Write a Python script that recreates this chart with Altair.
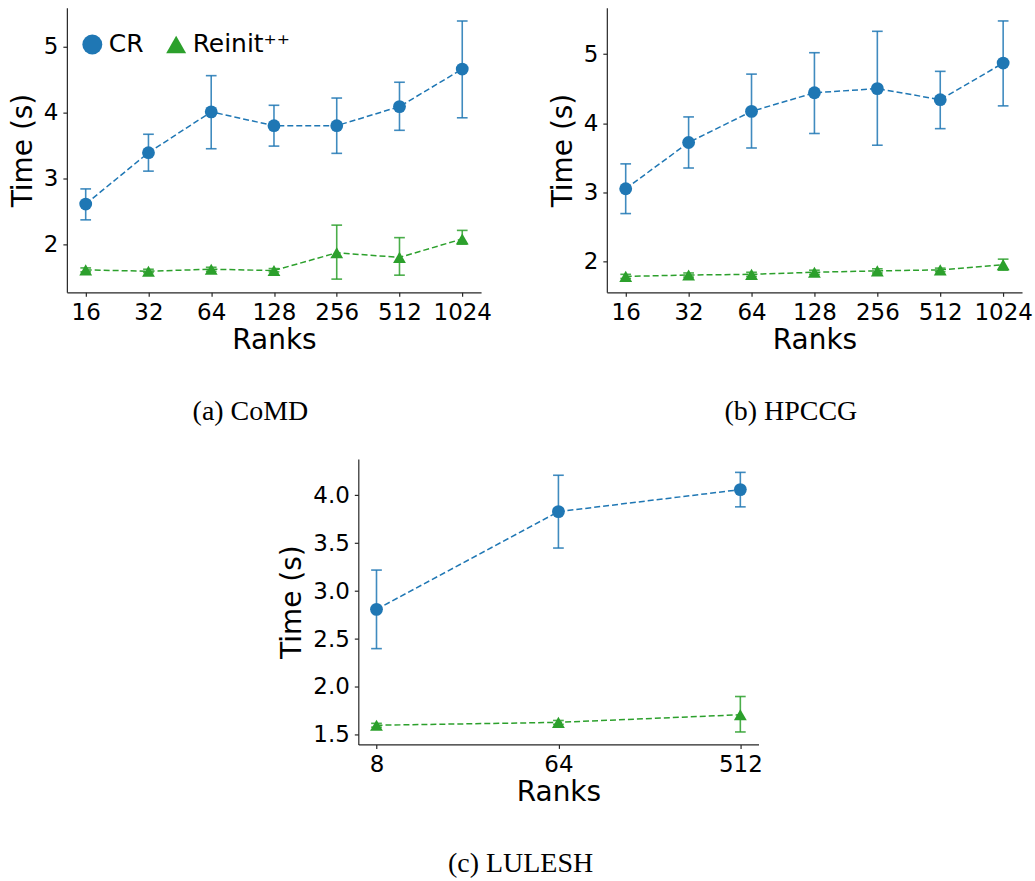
import altair as alt
import pandas as pd

SERIES = ["CR", "Reinit⁺⁺"]
COLORS = ["#1f77b4", "#2ca02c"]
SHAPES = ["circle", "triangle-up"]

# (a) CoMD
comd_ranks = ["16", "32", "64", "128", "256", "512", "1024"]
comd_cr = [2.61, 3.39, 4.01, 3.80, 3.80, 4.09, 4.66]
comd_cr_lo = [2.37, 3.11, 3.45, 3.49, 3.38, 3.73, 3.92]
comd_cr_hi = [2.84, 3.67, 4.56, 4.11, 4.22, 4.46, 5.39]
comd_re = [1.61, 1.59, 1.62, 1.60, 1.87, 1.80, 2.08]
comd_re_lo = [1.58, 1.57, 1.59, 1.58, 1.47, 1.53, 2.00]
comd_re_hi = [1.64, 1.62, 1.65, 1.63, 2.29, 2.10, 2.21]

# (b) HPCCG
hpccg_ranks = ["16", "32", "64", "128", "256", "512", "1024"]
hpccg_cr = [3.05, 3.72, 4.17, 4.44, 4.50, 4.34, 4.87]
hpccg_cr_lo = [2.69, 3.35, 3.64, 3.85, 3.68, 3.92, 4.25]
hpccg_cr_hi = [3.41, 4.09, 4.71, 5.02, 5.33, 4.75, 5.48]
hpccg_re = [1.78, 1.80, 1.81, 1.84, 1.86, 1.875, 1.95]
hpccg_re_lo = [1.75, 1.77, 1.78, 1.81, 1.83, 1.85, 1.87]
hpccg_re_hi = [1.81, 1.83, 1.84, 1.87, 1.89, 1.90, 2.03]

# (c) LULESH
lulesh_ranks = ["8", "64", "512"]
lulesh_cr = [2.81, 3.83, 4.06]
lulesh_cr_lo = [2.40, 3.45, 3.88]
lulesh_cr_hi = [3.22, 4.21, 4.24]
lulesh_re = [1.60, 1.63, 1.71]
lulesh_re_lo = [1.58, 1.61, 1.53]
lulesh_re_hi = [1.62, 1.65, 1.90]

FONT = "DejaVu Sans"

LEGEND = alt.Legend(title=None, orient="none", legendX=13, legendY=24,
                    direction="horizontal", symbolSize=400, labelFontSize=25,
                    labelFont=FONT, labelColor="black", symbolStrokeWidth=0,
                    labelOffset=4, columnPadding=20)


def make_df(ranks, cr, crlo, crhi, re, relo, rehi):
    rows = []
    for r, v, lo, hi in zip(ranks, cr, crlo, crhi):
        rows.append({"rank": r, "series": SERIES[0], "value": v, "lo": lo, "hi": hi})
    for r, v, lo, hi in zip(ranks, re, relo, rehi):
        rows.append({"rank": r, "series": SERIES[1], "value": v, "lo": lo, "hi": hi})
    return pd.DataFrame(rows)


def axis_style(title_pad, **kw):
    return alt.Axis(labelFont=FONT, labelFontSize=23, labelColor="black",
                    titleFont=FONT, titleFontSize=28, titleFontWeight="normal",
                    titleColor="black", domainColor="#262626", tickColor="#262626",
                    domainWidth=1.2, tickWidth=1.2, tickSize=4, labelPadding=5,
                    titlePadding=title_pad, grid=False, **kw)


def panel(df, ranks, domain, ticks, fmt, caption, width, height, xpad):
    x = alt.X("rank:O", sort=ranks, title="Ranks",
              scale=alt.Scale(type="point", padding=xpad),
              axis=axis_style(2, labelAngle=0))
    yscale = alt.Scale(domain=domain, nice=False, zero=False)
    # stroke scale: domain taken from the data (sorted: CR, Reinit) so that its
    # disabled legend is not merged with the colour/shape legend
    stroke = alt.Stroke("series:N", scale=alt.Scale(range=COLORS), legend=None)
    base = alt.Chart(df)
    line = base.mark_line(strokeDash=[6, 3], strokeWidth=1.5).encode(
        x=x, y=alt.Y("value:Q", scale=yscale, title="Time (s)",
                      axis=axis_style(6, values=ticks, format=fmt)),
        stroke=stroke, detail="series:N")
    rule = base.mark_rule(strokeWidth=1.6, opacity=0.85).encode(
        x=x, y="lo:Q", y2="hi:Q", stroke=stroke)
    cap_lo = base.mark_point(shape="stroke", size=115, strokeWidth=1.6, opacity=0.85).encode(
        x=x, y="lo:Q", stroke=stroke)
    cap_hi = base.mark_point(shape="stroke", size=115, strokeWidth=1.6, opacity=0.85).encode(
        x=x, y="hi:Q", stroke=stroke)
    pts = base.mark_point(filled=True, opacity=1, size=165).encode(
        x=x, y="value:Q",
        color=alt.Color("series:N", scale=alt.Scale(domain=SERIES, range=COLORS), legend=LEGEND),
        shape=alt.Shape("series:N", scale=alt.Scale(domain=SERIES, range=SHAPES), legend=LEGEND))
    return alt.layer(line, rule, cap_lo, cap_hi, pts).properties(
        width=width, height=height,
        title=alt.TitleParams(caption, orient="bottom", anchor="middle", frame="bounds",
                              font="Liberation Serif", fontSize=28, fontWeight="normal",
                              color="black", offset=44))


pa = panel(make_df(comd_ranks, comd_cr, comd_cr_lo, comd_cr_hi, comd_re, comd_re_lo, comd_re_hi),
           comd_ranks, [1.27, 5.59], [2, 3, 4, 5], "d", "(a) CoMD", 415, 285, 0.3)
pb = panel(make_df(hpccg_ranks, hpccg_cr, hpccg_cr_lo, hpccg_cr_hi, hpccg_re, hpccg_re_lo, hpccg_re_hi),
           hpccg_ranks, [1.55, 5.67], [2, 3, 4, 5], "d", "(b) HPCCG", 416, 285, 0.3)
pc = panel(make_df(lulesh_ranks, lulesh_cr, lulesh_cr_lo, lulesh_cr_hi, lulesh_re, lulesh_re_lo, lulesh_re_hi),
           lulesh_ranks, [1.40, 4.38], [1.5, 2.0, 2.5, 3.0, 3.5, 4.0], ".1f", "(c) LULESH", 401, 286, 0.1)

spacer = alt.Chart(pd.DataFrame({"s": [0]})).mark_text(text="").encode(
    x=alt.value(0), y=alt.value(0)).properties(width=212, height=20)

top = alt.hconcat(pa, pb, spacing=57)
bottom = alt.hconcat(spacer, pc, spacing=0)
chart = alt.vconcat(top, bottom, spacing=27).properties(
    padding={"left": 9, "top": 7, "right": 2, "bottom": 2},
    background="white",
).configure_view(stroke=None)

chart.save("out.html", embed_options={"renderer": "svg", "actions": False})
